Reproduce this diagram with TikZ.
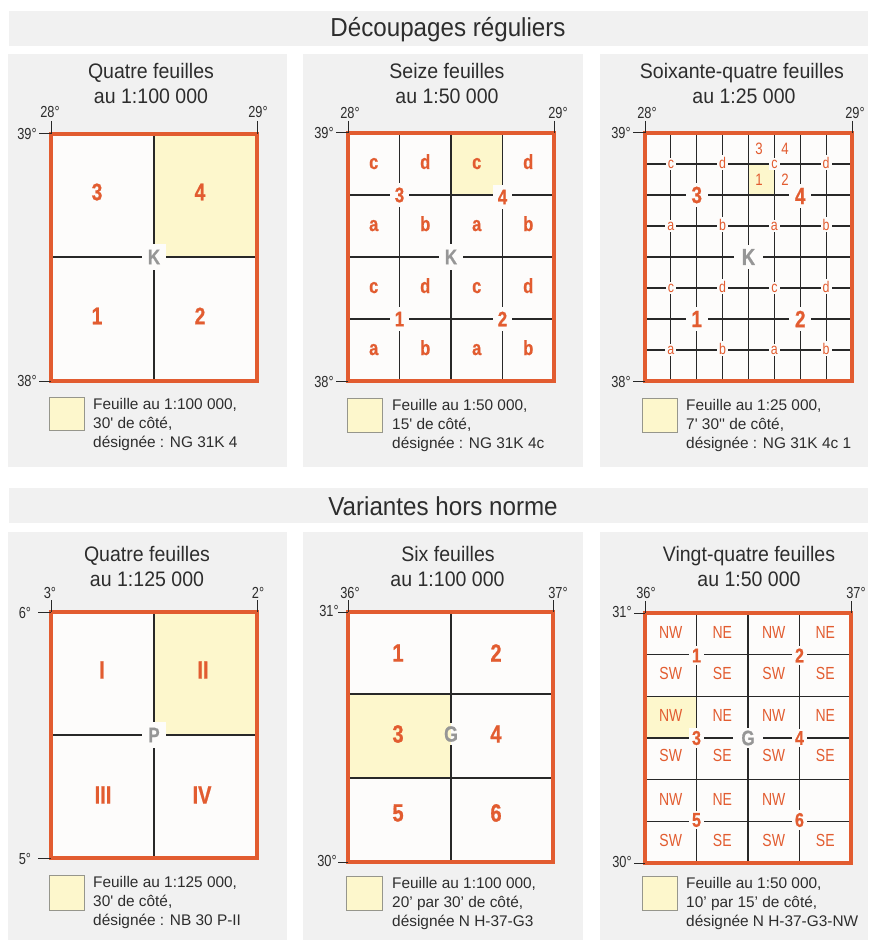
\documentclass[tikz,border=0pt]{standalone}
\usepackage{fontspec}
\setmainfont{Liberation Sans}[Ligatures=TeXOff]
\newfontfamily\condf[FakeStretch=0.8,Ligatures=TeXOff]{Liberation Sans}
\newfontfamily\condb[FakeStretch=0.8,FakeBold=0.8,Ligatures=TeXOff]{Liberation Sans}
\newfontfamily\titlef[FakeStretch=0.93,Ligatures=TeXOff]{Liberation Sans}
\definecolor{orng}{RGB}{226,92,48}
\definecolor{panelg}{RGB}{241,241,241}
\definecolor{mapw}{RGB}{253,252,251}
\definecolor{yel}{RGB}{253,247,204}
\definecolor{gridc}{RGB}{40,40,40}
\definecolor{kgray}{RGB}{150,150,150}
\definecolor{txt}{RGB}{45,45,45}
\definecolor{legline}{RGB}{150,150,140}
\begin{document}
\begin{tikzpicture}[x=1pt,y=-1pt,
  panel/.style={fill=panelg},
  mapfill/.style={fill=mapw},
  sheet/.style={fill=yel},
  gridline/.style={draw=gridc, line width=1.1pt},
  frame/.style={draw=orng, line width=3.8pt},
  tickline/.style={draw=gridc, line width=1pt},
  ticklab/.style={font=\condf\fontsize{16}{16}\selectfont, text=txt, inner sep=0pt},
  title/.style={font=\titlef\fontsize{21}{21}\selectfont, text=txt, inner sep=0pt, anchor=base},
  banner/.style={font=\titlef\fontsize{26}{26}\selectfont, text=txt, inner sep=0pt, anchor=base},
  legtext/.style={font=\fontsize{15.4}{19}\selectfont, text=txt, align=left, anchor=north west, inner sep=0pt},
  legbox/.style={fill=yel, draw=legline, line width=0.8pt},
  bignum/.style={font=\condb\bfseries\fontsize{24}{24}\selectfont, text=orng, inner sep=0pt},
  centre/.style={font=\condb\bfseries\fontsize{21}{21}\selectfont, text=kgray, fill=mapw, inner xsep=6pt, inner ysep=6pt},
  midlet/.style={font=\condb\bfseries\fontsize{20.5}{20.5}\selectfont, text=orng, inner sep=0pt, anchor=base},
  midnum/.style={font=\condb\bfseries\fontsize{21}{21}\selectfont, text=orng, fill=mapw, inner xsep=5pt, inner ysep=5pt},
  p3num/.style={font=\condb\bfseries\fontsize{23.5}{23.5}\selectfont, text=orng, fill=mapw, inner xsep=6pt, inner ysep=4pt},
  smlet/.style={font=\condf\fontsize{15.5}{15.5}\selectfont, text=orng, fill=mapw, inner xsep=2pt, inner ysep=1.5pt, anchor=base},
  smdig/.style={font=\condf\fontsize{16.5}{16.5}\selectfont, text=orng, inner sep=0pt},
  quad/.style={font=\condf\fontsize{17.5}{17.5}\selectfont, text=orng, inner sep=0pt},
  p6num/.style={font=\condb\bfseries\fontsize{20}{20}\selectfont, text=orng, fill=mapw, inner xsep=3pt, inner ysep=2.5pt},
  roman/.style={font=\condb\bfseries\fontsize{25}{25}\selectfont, text=orng, inner sep=0pt},
  bignum5/.style={font=\condb\bfseries\fontsize{25}{25}\selectfont, text=orng, inner sep=0pt},
  gnode/.style={font=\condb\bfseries\fontsize{22}{22}\selectfont, text=kgray, inner xsep=2pt, inner ysep=3pt}
]
\useasboundingbox (0,0) rectangle (877,944);
\fill[white] (0,0) rectangle (877,944);

% ---------- banners ----------
\fill[panel] (9,11) rectangle (868,46);
\node[banner] (b1) at (448,37) {Découpages réguliers};
\fill[panel] (9,488) rectangle (868,523);
\node[banner] (b2) at (443,515) {Variantes hors norme};

% ---------- panel backgrounds ----------
\fill[panel] (8,54) rectangle (287,467);
\fill[panel] (303,54) rectangle (583,467);
\fill[panel] (600,54) rectangle (868,467);
\fill[panel] (8,532) rectangle (287,940);
\fill[panel] (303,532) rectangle (583,940);
\fill[panel] (600,532) rectangle (868,940);

% ================= Panel 1 =================
\node[title] (t1a) at (151,79) {Quatre feuilles};
\node[title] (t1b) at (151,104) {au 1:100 000};
\fill[mapfill] (51,134) rectangle (257,381);
\fill[sheet] (154,134) rectangle (257,257);
\draw[gridline] (154,134) -- (154,381);
\draw[gridline] (51,257) -- (257,257);
\node[bignum] (n13) at (97,192) {3};
\node[bignum] (n14) at (200,192) {4};
\node[bignum] (n11) at (97,316) {1};
\node[bignum] (n12) at (200,316) {2};
\node[centre] (k1) at (154,257) {K};
\draw[frame] (51,134) rectangle (257,381);
\draw[tickline] (51,121) -- (51,134);
\draw[tickline] (257,121) -- (257,134);
\draw[tickline] (39,134) -- (51,134);
\draw[tickline] (39,381) -- (51,381);
\node[ticklab] (p1x1) at (50,112) {28°};
\node[ticklab] (p1x2) at (258,112) {29°};
\node[ticklab] (p1y1) at (27,134) {39°};
\node[ticklab] (p1y2) at (27,381) {38°};
\draw[legbox] (49,397) rectangle (84,430);
\node[legtext] (lg1) at (93,398.5) {Feuille au 1:100 000,\\30' de côté,\\désignée : NG 31K 4};

% ================= Panel 2 =================
\node[title] (t2a) at (447,79) {Seize feuilles};
\node[title] (t2b) at (447,104) {au 1:50 000};
\fill[mapfill] (348,133) rectangle (554,381);
\fill[sheet] (451,133) rectangle (502.5,195);
\foreach \xx in {399.5,451,502.5} \draw[gridline] (\xx,133) -- (\xx,381);
\foreach \yy in {195,257,319} \draw[gridline] (348,\yy) -- (554,\yy);
\foreach \yy/\la/\lb [count=\r] in {169/c/d,231/a/b,293/c/d,355/a/b}{
  \node[midlet] (p2r\r a) at (373.75,\yy) {\la};
  \node[midlet] (p2r\r b) at (425.25,\yy) {\lb};
  \node[midlet] (p2r\r c) at (476.75,\yy) {\la};
  \node[midlet] (p2r\r d) at (528.25,\yy) {\lb};
}
\node[midnum] (n23) at (399.5,195) {3};
\node[midnum] (n24) at (502.5,197) {4};
\node[midnum] (n21) at (399.5,319) {1};
\node[midnum] (n22) at (502.5,319) {2};
\node[centre] (k2) at (451,257) {K};
\draw[frame] (348,133) rectangle (554,381);
\draw[tickline] (348,121) -- (348,133);
\draw[tickline] (554,121) -- (554,133);
\draw[tickline] (336,133) -- (348,133);
\draw[tickline] (336,381) -- (348,381);
\node[ticklab] (p2x1) at (350,113) {28°};
\node[ticklab] (p2x2) at (558,113) {29°};
\node[ticklab] (p2y1) at (324,133) {39°};
\node[ticklab] (p2y2) at (324,382) {38°};
\draw[legbox] (347,398) rectangle (382,432);
\node[legtext] (lg2) at (392,399.5) {Feuille au 1:50 000,\\15' de côté,\\désignée : NG 31K 4c};

% ================= Panel 3 =================
\node[title] (t3a) at (742,79) {Soixante-quatre feuilles};
\node[title] (t3b) at (744,104) {au 1:25 000};
\fill[mapfill] (645,133) rectangle (852,381);
\fill[sheet] (748.5,164) rectangle (774.4,195);
\foreach \i in {1,...,7}{
  \draw[gridline] ({645+\i*25.875},133) -- ({645+\i*25.875},381);
  \draw[gridline] (645,{133+\i*31}) -- (852,{133+\i*31});
}
\foreach \yy/\la/\lb [count=\r] in {164/c/d,226/a/b,288/c/d,350/a/b}{
  \node[smlet] (p3r\r a) at (670.9,\yy+4) {\la};
  \node[smlet] (p3r\r b) at (722.6,\yy+4) {\lb};
  \node[smlet] (p3r\r c) at (774.4,\yy+4) {\la};
  \node[smlet] (p3r\r d) at (826.1,\yy+4) {\lb};
}
\node[smdig] (s33) at (759,149) {3};
\node[smdig] (s34) at (785,149) {4};
\node[smdig] (s31) at (759,180) {1};
\node[smdig] (s32) at (785,180) {2};
\node[p3num] (n33) at (696.75,195) {3};
\node[p3num] (n34) at (800.25,196) {4};
\node[p3num] (n31) at (696.75,319) {1};
\node[p3num] (n32) at (800.25,319) {2};
\node[centre, inner xsep=8pt, inner ysep=4pt, font=\condb\bfseries\fontsize{23}{23}\selectfont] (k3) at (748.5,257) {K};
\draw[frame] (645,133) rectangle (852,381);
\draw[tickline] (645,121) -- (645,133);
\draw[tickline] (852,121) -- (852,133);
\draw[tickline] (633,133) -- (645,133);
\draw[tickline] (633,381) -- (645,381);
\node[ticklab] (p3x1) at (647,113) {28°};
\node[ticklab] (p3x2) at (855,113) {29°};
\node[ticklab] (p3y1) at (621,133) {39°};
\node[ticklab] (p3y2) at (621,382) {38°};
\draw[legbox] (642,398) rectangle (677,432);
\node[legtext] (lg3) at (686,399.5) {Feuille au 1:25 000,\\7' 30'' de côté,\\désignée : NG 31K 4c 1};

% ================= Panel 4 =================
\node[title] (t4a) at (147,561) {Quatre feuilles};
\node[title] (t4b) at (147,586) {au 1:125 000};
\fill[mapfill] (51,612) rectangle (257,858);
\fill[sheet] (154,612) rectangle (257,735);
\draw[gridline] (154,612) -- (154,858);
\draw[gridline] (51,735) -- (257,735);
\node[roman] (r1) at (102,670) {I};
\node[roman] (r2) at (203,670) {II};
\node[roman] (r3) at (103,795) {III};
\node[roman] (r4) at (202,795) {IV};
\node[centre] (pp) at (154,735) {P};
\draw[frame] (51,612) rectangle (257,858);
\draw[tickline] (51,600) -- (51,612);
\draw[tickline] (257,600) -- (257,612);
\draw[tickline] (38,612) -- (51,612);
\draw[tickline] (38,858) -- (51,858);
\node[ticklab] (p4x1) at (50,593) {3°};
\node[ticklab] (p4x2) at (258,593) {2°};
\node[ticklab] (p4y1) at (25,613) {6°};
\node[ticklab] (p4y2) at (25,859) {5°};
\draw[legbox] (49,875) rectangle (84,910);
\node[legtext] (lg4) at (93,876.5) {Feuille au 1:125 000,\\30' de côté,\\désignée : NB 30 P-II};

% ================= Panel 5 =================
\node[title] (t5a) at (448,561) {Six feuilles};
\node[title] (t5b) at (447.5,586) {au 1:100 000};
\fill[mapfill] (348,612) rectangle (553,862);
\fill[sheet] (348,694) rectangle (451,778);
\draw[gridline] (348,694) -- (553,694);
\draw[gridline] (348,778) -- (553,778);
\node[gnode] (g5) at (451,734) {G};
\draw[gridline] (451,612) -- (g5.north);
\draw[gridline] (g5.south) -- (451,862);
\node[bignum5] (n51) at (398,653) {1};
\node[bignum5] (n52) at (496,653) {2};
\node[bignum5] (n53) at (398,734) {3};
\node[bignum5] (n54) at (496,734) {4};
\node[bignum5] (n55) at (398,813) {5};
\node[bignum5] (n56) at (496,813) {6};
\draw[frame] (348,612) rectangle (553,862);
\draw[tickline] (348,600) -- (348,612);
\draw[tickline] (553,600) -- (553,612);
\draw[tickline] (338,612) -- (348,612);
\draw[tickline] (338,862) -- (348,862);
\node[ticklab] (p5x1) at (350,593) {36°};
\node[ticklab] (p5x2) at (558,593) {37°};
\node[ticklab] (p5y1) at (329,611) {31°};
\node[ticklab] (p5y2) at (327,861) {30°};
\draw[legbox] (346,876) rectangle (382,910);
\node[legtext] (lg5) at (392,877.5) {Feuille au 1:100 000,\\20’ par 30’ de côté,\\désignée N H-37-G3};

% ================= Panel 6 =================
\node[title] (t6a) at (749,561) {Vingt-quatre feuilles};
\node[title] (t6b) at (749,586) {au 1:50 000};
\fill[mapfill] (645,613) rectangle (851,863);
\fill[sheet] (645,696.3) rectangle (696.5,738);
\foreach \xx in {696.5,748,799.5} \draw[gridline] (\xx,613) -- (\xx,863);
\foreach \j in {1,...,5} \draw[gridline] (645,{613+\j*41.667}) -- (851,{613+\j*41.667});
\foreach \yy/\la/\lb [count=\r] in {632/NW/NE,673/SW/SE,715/NW/NE,755/SW/SE,840/SW/SE}{
  \node[quad] (q\r a) at (670.75,\yy) {\la};
  \node[quad] (q\r b) at (722.25,\yy) {\lb};
  \node[quad] (q\r c) at (773.75,\yy) {\la};
  \node[quad] (q\r d) at (825.25,\yy) {\lb};
}
\node[quad] (q6a) at (670.75,799) {NW};
\node[quad] (q6b) at (722.25,799) {NE};
\node[quad] (q6c) at (773.75,799) {NW};
\node[p6num] (n61) at (696.5,655.5) {1};
\node[p6num] (n62) at (799.5,655.5) {2};
\node[p6num] (n63) at (696.5,738) {3};
\node[p6num] (n64) at (799.5,738) {4};
\node[p6num] (n65) at (696.5,820) {5};
\node[p6num] (n66) at (799.5,820) {6};
\node[centre, inner xsep=8pt, inner ysep=3pt, font=\condb\bfseries\fontsize{21}{21}\selectfont] (g6) at (748,738) {G};
\draw[frame] (645,613) rectangle (851,863);
\draw[tickline] (645,601) -- (645,613);
\draw[tickline] (851,601) -- (851,613);
\draw[tickline] (634,613) -- (645,613);
\draw[tickline] (634,863) -- (645,863);
\node[ticklab] (p6x1) at (646,593) {36°};
\node[ticklab] (p6x2) at (856,593) {37°};
\node[ticklab] (p6y1) at (622,612) {31°};
\node[ticklab] (p6y2) at (622,862) {30°};
\draw[legbox] (642,876) rectangle (677,910);
\node[legtext] (lg6) at (686,877.5) {Feuille au 1:50 000,\\10’ par 15’ de côté,\\désignée N H-37-G3-NW};
\end{tikzpicture}
\end{document}
